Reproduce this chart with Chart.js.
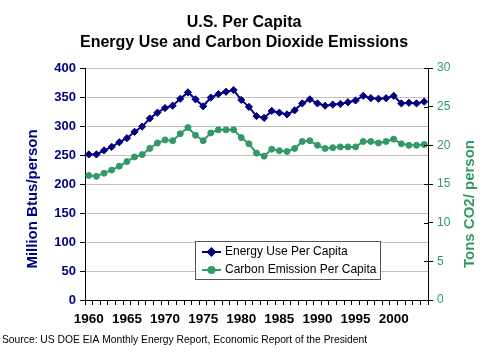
<!DOCTYPE html>
<html>
<head>
<meta charset="utf-8">
<script src="https://cdn.jsdelivr.net/npm/chart.js@4.4.1/dist/chart.umd.min.js"></script>
<style>
  html, body { margin: 0; padding: 0; background: #fff; }
  #wrap { width: 488px; height: 353px; }
</style>
</head>
<body>
<div id="wrap"><canvas id="perCapita" width="488" height="353"></canvas></div>
<script>
// years 1960 - 2004
const years = [];
for (let y = 1960; y <= 2004; y++) years.push(String(y));

// Million Btus per person
const energyUse = [
	251, 251, 258, 264, 272, 279, 290, 299, 313, 323,
	331, 335, 347, 358, 346, 334, 349, 355, 359, 362,
	345, 333, 317, 314, 326, 323, 320, 327, 339, 346,
	339, 335, 337, 338, 341, 344, 352, 348, 347, 348,
	352, 339, 340, 339, 342
];

// Tons CO2 per person
const carbonEmission = [
	16.1, 16.0, 16.4, 16.8, 17.3, 17.9, 18.5, 18.8, 19.6, 20.3,
	20.7, 20.6, 21.5, 22.3, 21.3, 20.6, 21.6, 22.0, 22.0, 22.0,
	21.0, 20.2, 19.0, 18.6, 19.5, 19.3, 19.2, 19.6, 20.5, 20.6,
	20.0, 19.6, 19.7, 19.8, 19.8, 19.8, 20.5, 20.5, 20.3, 20.5,
	20.8, 20.2, 20.0, 20.0, 20.1
];

const leftMax = 400, leftStep = 50;
const rightMax = 30, rightStep = 5;

const navy = '#000080';
const green = '#339966';
const font = 'Arial, "Liberation Sans", sans-serif';

// axis titles, legend box and source line
const extras = {
	id: 'extras',
	afterDraw(chart) {
		const ctx = chart.ctx;
		ctx.save();

		// inner tick marks on the right axis (they cross the axis)
		const r = chart.scales.y1;
		ctx.strokeStyle = '#000';
		ctx.lineWidth = 1;
		for (let v = 0; v <= rightMax; v += rightStep) {
			const py = Math.round(r.getPixelForValue(v)) + 0.5;
			ctx.beginPath();
			ctx.moveTo(r.left - 4, py);
			ctx.lineTo(r.left, py);
			ctx.stroke();
		}

		// left axis title
		ctx.font = 'bold 15px ' + font;
		ctx.fillStyle = navy;
		ctx.textAlign = 'center';
		ctx.textBaseline = 'middle';
		ctx.translate(33, 199);
		ctx.rotate(-Math.PI / 2);
		ctx.fillText('Million Btus/person', 0, 0);
		ctx.setTransform(1, 0, 0, 1, 0, 0);

		// right axis title
		ctx.fillStyle = green;
		ctx.translate(470, 204);
		ctx.rotate(-Math.PI / 2);
		ctx.fillText('Tons CO2/ person', 0, 0);
		ctx.setTransform(1, 0, 0, 1, 0, 0);

		// legend
		ctx.fillStyle = '#fff';
		ctx.fillRect(195.5, 241.5, 185, 38);
		ctx.strokeStyle = '#555';
		ctx.lineWidth = 1;
		ctx.strokeRect(195.5, 241.5, 185, 38);
		const rows = [252, 270];
		chart.data.datasets.forEach(function(ds, i) {
			const y = rows[i];
			ctx.strokeStyle = ds.borderColor;
			ctx.lineWidth = 2;
			ctx.beginPath();
			ctx.moveTo(202, y);
			ctx.lineTo(221, y);
			ctx.stroke();
			ctx.fillStyle = ds.backgroundColor;
			Chart.helpers.drawPoint(ctx, {
				pointStyle: ds.pointStyle,
				radius: ds.pointRadius,
				rotation: 0,
				borderWidth: 1
			}, 211.5, y);
			ctx.fillStyle = '#000';
			ctx.font = '12px ' + font;
			ctx.textAlign = 'left';
			ctx.fillText(ds.label, 225, y);
		});

		// source
		ctx.font = '10.3px ' + font;
		ctx.fillStyle = '#000';
		ctx.textAlign = 'left';
		ctx.fillText('Source: US DOE EIA Monthly Energy Report, Economic Report of the President', 2, 340);

		ctx.restore();
	}
};

new Chart(document.getElementById('perCapita'), {
	type: 'line',
	data: {
		labels: years,
		datasets: [
			{
				label: 'Energy Use Per Capita',
				data: energyUse,
				yAxisID: 'y',
				borderColor: navy,
				backgroundColor: navy,
				borderWidth: 2,
				pointStyle: 'rectRot',
				pointRadius: 3.6,
				pointBorderWidth: 1,
				tension: 0
			},
			{
				label: 'Carbon Emission Per Capita',
				data: carbonEmission,
				yAxisID: 'y1',
				borderColor: green,
				backgroundColor: green,
				borderWidth: 2,
				pointStyle: 'circle',
				pointRadius: 3,
				pointBorderWidth: 1,
				tension: 0
			}
		]
	},
	options: {
		responsive: false,
		animation: false,
		layout: { padding: 0 },
		plugins: {
			legend: { display: false },
			tooltip: { enabled: false },
			title: {
				display: true,
				text: ['U.S. Per Capita', 'Energy Use and Carbon Dioxide Emissions'],
				color: '#000',
				font: { family: font, size: 16, weight: 'bold', lineHeight: 1.25 },
				padding: { top: 13, bottom: 15 }
			}
		},
		scales: {
			x: {
				type: 'category',
				offset: true,
				afterFit: function(scale) { scale.height = 53; },
				grid: {
					offset: true,
					drawOnChartArea: false,
					tickLength: 5,
					tickColor: '#000'
				},
				border: { color: '#000', width: 1 },
				ticks: {
					autoSkip: false,
					maxRotation: 0,
					minRotation: 0,
					padding: 6,
					color: '#000',
					font: { family: font, size: 13.5, weight: 'bold' },
					callback: function(v, i) {
						return Number(years[i]) % 5 === 0 ? years[i] : '';
					}
				}
			},
			y: {
				position: 'left',
				min: 0,
				max: leftMax,
				afterFit: function(scale) { scale.width = 85; },
				grid: {
					color: '#c0c0c0',
					tickColor: '#000',
					tickLength: 5
				},
				border: { color: '#000', width: 1 },
				ticks: {
					stepSize: leftStep,
					padding: 4,
					color: navy,
					font: { family: font, size: 13, weight: 'bold' }
				}
			},
			y1: {
				position: 'right',
				min: 0,
				max: rightMax,
				afterFit: function(scale) { scale.width = 60; },
				grid: {
					drawOnChartArea: false,
					tickColor: '#000',
					tickLength: 5
				},
				border: { color: '#000', width: 1 },
				ticks: {
					stepSize: rightStep,
					padding: 4,
					color: green,
					font: { family: font, size: 12 }
				}
			}
		}
	},
	plugins: [extras]
});
</script>
</body>
</html>
